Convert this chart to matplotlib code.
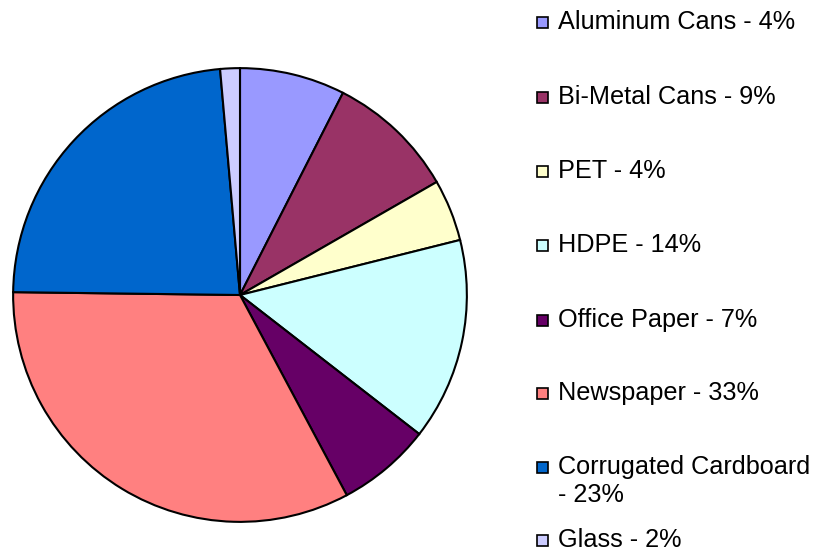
import matplotlib.pyplot as plt
from matplotlib.patches import Rectangle

plt.rcParams['font.family'] = ['Liberation Sans', 'DejaVu Sans']

# slice sizes (percent of circle), labels as printed in legend
materials = ['Aluminum Cans', 'Bi-Metal Cans', 'PET', 'HDPE', 'Office Paper',
             'Newspaper', 'Corrugated Cardboard', 'Glass']
slice_sizes = [7.5, 9.2, 4.4, 14.4, 6.7, 33.0, 23.4, 1.4]
legend_pct = ['4%', '9%', '4%', '14%', '7%', '33%', '23%', '2%']
colors = ['#9999FF', '#993366', '#FFFFCC', '#CCFFFF', '#660066',
          '#FF8080', '#0066CC', '#CCCCFF']

W, H = 816, 554
fig = plt.figure(figsize=(W / 100, H / 100), dpi=100)

# pie: centre (240, 295) px, radius 228 px
cx, cy, r = 240, 295, 228
ax = fig.add_axes([(cx - r) / W, (H - cy - r) / H, 2 * r / W, 2 * r / H])
ax.pie(slice_sizes, colors=colors, startangle=90, counterclock=False,
       wedgeprops=dict(edgecolor='black', linewidth=1.5), frame=False)
ax.set_xlim(-1.005, 1.005)
ax.set_ylim(-1.005, 1.005)
ax.set_aspect('equal')
ax.axis('off')

# legend, drawn by hand to follow the original layout
fs = 18.2
text_y = [22, 97, 171, 245, 320, 393, 467, 540]
for name, pct, col, y in zip(materials, legend_pct, colors, text_y):
    fig.patches.append(Rectangle(((537) / W, 1 - (y + 6) / H), 11 / W, 11 / H,
                                 transform=fig.transFigure, facecolor=col,
                                 edgecolor='black', linewidth=1.2))
    label = f'{name} - {pct}'
    if name == 'Corrugated Cardboard':
        label = f'{name}\n- {pct}'
        fig.text(558 / W, 1 - (y - 12) / H, label, fontsize=fs, va='top',
                 ha='left', linespacing=1.2)
    else:
        fig.text(558 / W, 1 - y / H, label, fontsize=fs, va='center', ha='left')

fig.savefig('out.png', dpi=100)
